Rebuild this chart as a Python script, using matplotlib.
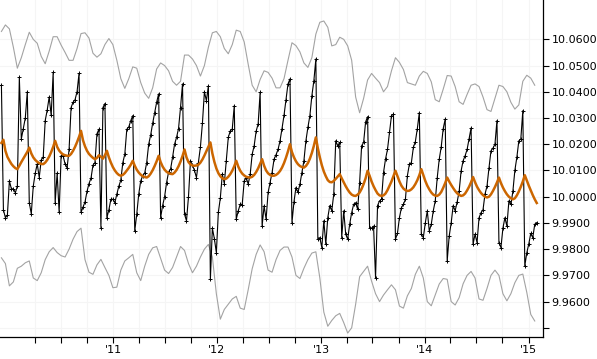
import pandas as pd
import matplotlib
matplotlib.use('Agg')
import matplotlib.pyplot as plt
from matplotlib.ticker import FuncFormatter

# weekly closes, first week 2009-12-04
close = [
    10.0425, 9.995, 9.992, 9.993, 10.006, 10.003, 10.003, 10.0015, 10.004, 10.0455,
    10.022, 10.026, 10.030, 10.040, 9.9977, 9.9935, 10.004, 10.009, 10.0125, 10.0073,
    10.014, 10.015, 10.029, 10.033, 10.038, 10.031, 10.0474, 9.9977, 10.009, 9.994,
    10.0156, 10.0156, 10.0124, 10.011, 10.018, 10.034, 10.036, 10.037, 10.040, 10.047,
    9.994, 9.996, 9.998, 10.002, 10.005, 10.007, 10.012, 10.013, 10.024, 10.0257,
    9.9882, 10.034, 10.0355, 9.992, 9.995, 9.999, 9.999, 9.9977, 10.001, 10.004,
    10.0063, 10.013, 10.0162, 10.0257, 10.0266, 10.029, 10.0309, 9.9869, 9.9933, 10.001,
    10.006, 10.008, 10.009, 10.013, 10.020, 10.0235, 10.028, 10.032, 10.036, 10.0392,
    9.992, 9.9966, 10.000, 10.0054, 10.0094, 10.0105, 10.015, 10.020, 10.0226, 10.026,
    10.034, 10.043, 9.9933, 9.9908, 10.000, 10.0137, 10.012, 10.010, 10.0073, 10.013,
    10.019, 10.028, 10.040, 10.0366, 10.0423, 9.9685, 9.988, 9.984, 9.9787, 9.994,
    9.9995, 10.0086, 10.005, 10.0137, 10.0226, 10.0251, 10.0258, 10.0347, 9.9914, 9.9946,
    9.9971, 9.997, 10.006, 10.0073, 10.0048, 10.0085, 10.0162, 10.0194, 10.025, 10.0277,
    10.0398, 9.9888, 9.9965, 9.9914, 10.0016, 10.0054, 10.0092, 10.0143, 10.016, 10.018,
    10.0213, 10.026, 10.031, 10.037, 10.043, 10.0449, 9.9901, 9.998, 10.0035, 10.0016,
    10.0048, 10.0092, 10.0137, 10.0213, 10.0264, 10.0309, 10.0385, 10.0442, 10.0525, 9.9838,
    9.9844, 9.9806, 9.9908, 9.9819, 9.992, 9.9966, 9.9946, 10.001, 10.0213, 10.0194,
    10.0207, 9.9844, 9.9946, 9.9857, 9.9838, 9.9895, 9.9939, 9.9971, 9.9977, 9.9952,
    10.0054, 10.0194, 10.0207, 10.0285, 10.0305, 9.9882, 9.988, 9.9888, 9.969, 9.9966,
    9.9984, 9.999, 10.0092, 10.0143, 10.018, 10.0245, 10.0309, 10.0315, 9.9838, 9.986,
    9.992, 9.9958, 9.9971, 9.999, 10.008, 10.0124, 10.013, 10.0188, 10.021, 10.026,
    10.0321, 9.9857, 9.9844, 9.990, 9.9946, 9.9869, 9.9895, 9.9946, 9.9984, 10.0073,
    10.0143, 10.019, 10.026, 10.0296, 9.9755, 9.985, 9.990, 9.9966, 9.9946, 9.998,
    10.002, 10.0099, 10.0137, 10.0156, 10.018, 10.022, 10.0262, 9.9819, 9.9857, 9.9825,
    9.992, 9.9939, 9.995, 10.001, 10.004, 10.011, 10.0175, 10.0185, 10.020, 10.029,
    9.9825, 9.9806, 9.988, 9.992, 9.9888, 9.9984, 9.9971, 10.002, 10.010, 10.015,
    10.0213, 10.022, 10.0328, 9.9736, 9.9786, 9.982, 9.986, 9.9844, 9.9895, 9.9901,
]

seasonal = [
    10.0205,
    10.0217, 10.0175, 10.0152, 10.0138, 10.0125, 10.0116, 10.0109, 10.0105, 10.0118, 10.0132,
    10.0145, 10.0158, 10.0171, 10.0187,
    10.0165, 10.0150, 10.0140, 10.0133, 10.0128, 10.0125, 10.0124, 10.0130, 10.0140, 10.0153,
    10.0170, 10.0190, 10.0213,
    10.0190, 10.0176, 10.0167, 10.0161, 10.0158, 10.0156, 10.0156, 10.0163, 10.0175, 10.0190,
    10.0208, 10.0228, 10.0251,
    10.0215, 10.0192, 10.0175, 10.0163, 10.0155, 10.0148, 10.0143, 10.0148, 10.0158, 10.0152,
    10.0145, 10.0158, 10.0175,
    10.0150, 10.0130, 10.0113, 10.0100, 10.0090, 10.0083, 10.0080, 10.0083, 10.0090, 10.0100,
    10.0110, 10.0122, 10.0137,
    10.0118, 10.0103, 10.0092, 10.0084, 10.0078, 10.0075, 10.0073, 10.0078, 10.0088, 10.0101,
    10.0117, 10.0135, 10.0156,
    10.0132, 10.0115, 10.0103, 10.0095, 10.0090, 10.0087, 10.0086, 10.0092, 10.0102, 10.0116,
    10.0134, 10.0155, 10.0180,
    10.0150, 10.0132, 10.0123, 10.0119, 10.0118, 10.0119, 10.0122, 10.0130, 10.0142, 10.0157,
    10.0174, 10.0190, 10.0207,
    10.0165, 10.0133, 10.0108, 10.0090, 10.0078, 10.0070, 10.0067, 10.0069, 10.0076, 10.0086,
    10.0099, 10.0116, 10.0137,
    10.0115, 10.0099, 10.0088, 10.0081, 10.0076, 10.0074, 10.0073, 10.0076, 10.0083, 10.0094,
    10.0108, 10.0125, 10.0143,
    10.0118, 10.0100, 10.0089, 10.0083, 10.0080, 10.0080, 10.0083, 10.0089, 10.0098, 10.0111,
    10.0128, 10.0149, 10.0173, 10.0200,
    10.0170, 10.0150, 10.0135, 10.0124, 10.0117, 10.0113, 10.0111, 10.0117, 10.0128, 10.0145,
    10.0167, 10.0194, 10.0226,
    10.0185, 10.0150, 10.0120, 10.0096, 10.0078, 10.0063, 10.0056, 10.0055, 10.0060, 10.0068,
    10.0077, 10.0086,
    10.0070, 10.0055, 10.0040, 10.0027, 10.0016, 10.0008, 10.0004, 10.0003, 10.0008, 10.0016,
    10.0030, 10.0048, 10.0070, 10.0099,
    10.0080, 10.0058, 10.0040, 10.0025, 10.0012, 10.0005, 10.0003, 10.0005, 10.0012, 10.0025,
    10.0042, 10.0058, 10.0078, 10.0099,
    10.0078, 10.0058, 10.0042, 10.0031, 10.0025, 10.0022, 10.0023, 10.0028, 10.0036, 10.0048,
    10.0063, 10.0082, 10.0105,
    10.0082, 10.0060, 10.0042, 10.0028, 10.0016, 10.0008, 10.0004, 10.0003, 10.0008, 10.0018,
    10.0034, 10.0052, 10.0073,
    10.0058, 10.0045, 10.0033, 10.0022, 10.0013, 10.0007, 10.0003, 10.0005, 10.0012, 10.0024,
    10.0038, 10.0055, 10.0075,
    10.0055, 10.0038, 10.0025, 10.0014, 10.0006, 10.0000, 9.9997, 10.0000, 10.0009, 10.0022,
    10.0037, 10.0054, 10.0073,
    10.0052, 10.0035, 10.0021, 10.0009, 10.0000, 9.9994, 9.9990, 9.9994, 10.0005, 10.0020,
    10.0038, 10.0058, 10.0082,
    10.0062, 10.0042, 10.0024, 10.0006, 9.9990, 9.9976,
]

# bands, every second week
upper = [
    10.063, 10.0655, 10.064, 10.057, 10.049, 10.053, 10.058, 10.0627, 10.060, 10.0585,
    10.0535, 10.0507, 10.0555, 10.061, 10.061, 10.0578, 10.055, 10.052, 10.052, 10.0565,
    10.0622, 10.0625, 10.0605, 10.0547, 10.0532, 10.0545, 10.058, 10.0603, 10.058, 10.052,
    10.045, 10.0413, 10.045, 10.0495, 10.049, 10.0435, 10.0395, 10.0375, 10.0415, 10.0487,
    10.051, 10.050, 10.048, 10.044, 10.0425, 10.044, 10.054, 10.054, 10.0525, 10.050,
    10.046, 10.050, 10.057, 10.0625, 10.063, 10.061, 10.0565, 10.0545, 10.058, 10.0635,
    10.063, 10.059, 10.0505, 10.0425, 10.040, 10.0447, 10.048, 10.0474, 10.0452, 10.0415,
    10.0415, 10.045, 10.052, 10.0587, 10.0576, 10.0552, 10.051, 10.0493, 10.053, 10.062,
    10.0665, 10.067, 10.0646, 10.0575, 10.058, 10.0608, 10.060, 10.0575, 10.052, 10.038,
    10.032, 10.0375, 10.0445, 10.047, 10.0452, 10.0435, 10.040, 10.042, 10.048, 10.053,
    10.0512, 10.0485, 10.0435, 10.043, 10.0425, 10.046, 10.0478, 10.047, 10.0438, 10.037,
    10.0362, 10.041, 10.0462, 10.046, 10.042, 10.0362, 10.0352, 10.039, 10.0425, 10.043,
    10.042, 10.038, 10.0332, 10.0325, 10.0375, 10.0425, 10.042, 10.040, 10.036, 10.0334,
    10.035, 10.044, 10.0463, 10.0452, 10.0425,
]
lower = [
    9.9767, 9.9745, 9.966, 9.9675, 9.9727, 9.9735, 9.9748, 9.9755, 9.969, 9.968,
    9.971, 9.976, 9.979, 9.9806, 9.9787, 9.9775, 9.977, 9.980, 9.9838, 9.9867,
    9.988, 9.976, 9.9712, 9.9704, 9.974, 9.9761, 9.973, 9.970, 9.9653, 9.9655,
    9.972, 9.9755, 9.9767, 9.978, 9.971, 9.968, 9.9735, 9.978, 9.9805, 9.981,
    9.9765, 9.972, 9.9707, 9.973, 9.977, 9.981, 9.9795, 9.9745, 9.971, 9.9735,
    9.977, 9.980, 9.9818, 9.977, 9.963, 9.9533, 9.957, 9.959, 9.961, 9.962,
    9.9575, 9.957, 9.9645, 9.9725, 9.978, 9.9816, 9.979, 9.972, 9.9712, 9.976,
    9.9795, 9.9808, 9.9808, 9.977, 9.970, 9.9688, 9.9727, 9.976, 9.9785, 9.979,
    9.969, 9.956, 9.9506, 9.9528, 9.9546, 9.9555, 9.952, 9.948, 9.950, 9.959,
    9.9695, 9.9715, 9.9735, 9.9678, 9.963, 9.960, 9.9625, 9.9645, 9.9664, 9.9645,
    9.9583, 9.9575, 9.9622, 9.965, 9.9704, 9.9735, 9.969, 9.960, 9.9584, 9.9625,
    9.9667, 9.9688, 9.9685, 9.960, 9.9587, 9.9615, 9.9668, 9.970, 9.9715, 9.969,
    9.961, 9.9605, 9.965, 9.970, 9.972, 9.970, 9.963, 9.9603, 9.963, 9.9672,
    9.970, 9.9705, 9.9635, 9.9551, 9.9526,
]

y_ticks = [9.95, 9.96, 9.97, 9.98, 9.99, 10.00, 10.01, 10.02, 10.03, 10.04, 10.05, 10.06]
year_ticks = ['2011-01-01', '2012-01-01', '2013-01-01', '2014-01-01', '2015-01-01']
year_labels = ["'11", "'12", "'13", "'14", "'15"]

dates = pd.date_range('2009-12-04', periods=len(close), freq='7D')
band_dates = dates[::2]

fig = plt.figure(figsize=(5.97, 3.59), dpi=100)
ax = fig.add_axes([0.0, 1 - 337 / 359, 543 / 597, 337 / 359])

ax.plot(band_dates[:len(upper)], upper, color='#a3a3a3', lw=0.8)
ax.plot(band_dates[:len(lower)], lower, color='#a3a3a3', lw=0.8)
ax.plot(dates, close, color='black', lw=0.8, marker='+', ms=3.5, mew=0.7)
ax.plot(dates[:len(seasonal)], seasonal, color='#cc6600', lw=1.8)

ax.set_xlim(pd.Timestamp('2009-11-29'), pd.Timestamp('2015-02-21'))
ax.set_ylim(9.9465, 10.075)

ax.yaxis.tick_right()
ax.set_yticks(y_ticks)
ax.yaxis.set_major_formatter(FuncFormatter(lambda v, p: '' if v < 9.955 else '%.4f' % v))

ax.set_xticks(pd.to_datetime(year_ticks))
ax.set_xticklabels(year_labels)
minor = [d for d in pd.date_range('2010-04-01', '2015-01-01', freq='QS') if d.month != 1]
ax.set_xticks(minor, minor=True)

for s in ['left', 'top']:
    ax.spines[s].set_visible(False)
for s in ['right', 'bottom']:
    ax.spines[s].set_linewidth(0.9)

ax.tick_params(axis='both', which='both', direction='out', length=4, width=0.8, labelsize=8)
ax.tick_params(axis='y', pad=2)
ax.tick_params(axis='x', pad=2)
ax.grid(True, which='both', color='#f5f5f5', lw=0.8)
ax.set_axisbelow(True)

fig.savefig('out.png', dpi=100)
